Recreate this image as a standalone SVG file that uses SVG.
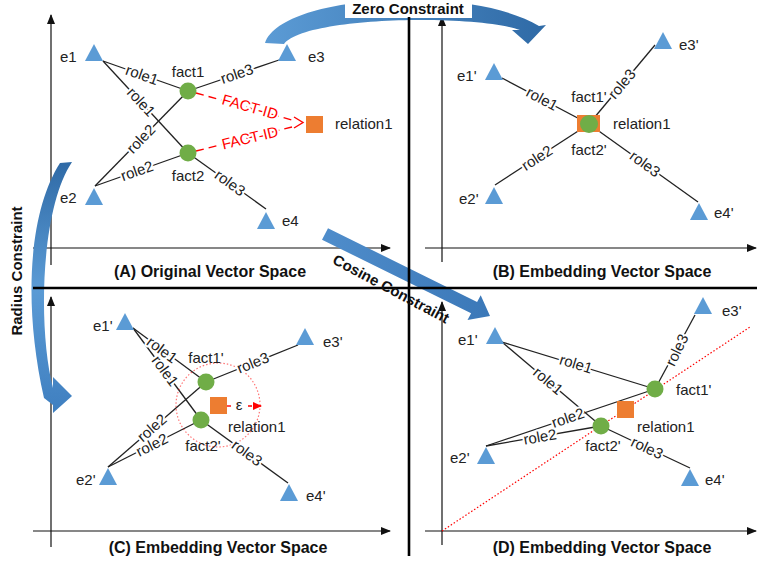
<svg xmlns="http://www.w3.org/2000/svg" width="757" height="564" viewBox="0 0 757 564">
<defs>
<style>
text{font-family:"Liberation Sans",Arial,sans-serif;font-size:15px;fill:#222}
.t{font-weight:bold;font-size:16px;text-anchor:middle;fill:#111}
.c{font-weight:bold;font-size:15px;text-anchor:middle;fill:#111}
.lbl{text-anchor:middle;stroke:#fff;stroke-width:4;stroke-linejoin:round;paint-order:stroke}
.mid{text-anchor:middle}
.edge{stroke:#222;stroke-width:1.3;fill:none}
.axis{stroke:#111;stroke-width:1.2;fill:none;marker-end:url(#ax)}
.div{stroke:#000;stroke-width:2.6}
.tri{fill:#5B9BD5}
.fact{fill:#70AD47}
.rel{fill:#ED7D31}
.fid{stroke:#F00;stroke-width:1.4;fill:none;stroke-dasharray:8 5}
.rtxt{fill:#F00;text-anchor:middle;stroke:#fff;stroke-width:4;stroke-linejoin:round;paint-order:stroke}
.dot{stroke:#F00;stroke-width:1.2;fill:none;stroke-dasharray:1.5 2}
</style>
<marker id="ax" markerWidth="10" markerHeight="8" refX="9" refY="4" orient="auto" markerUnits="userSpaceOnUse"><path d="M0,0 L10,4 L0,8 Z" fill="#111"/></marker>
<marker id="ra" markerWidth="9" markerHeight="8" refX="8" refY="4" orient="auto" markerUnits="userSpaceOnUse"><path d="M0,0 L9,4 L0,8 Z" fill="#F00"/></marker>
<path id="tri" d="M0,-9 L9,8 L-9,8 Z"/>
<linearGradient id="gz" x1="0" y1="0" x2="1" y2="0"><stop offset="0" stop-color="#5B9BD5"/><stop offset="1" stop-color="#2F6AA6"/></linearGradient>
<linearGradient id="gr" x1="0" y1="0" x2="0" y2="1"><stop offset="0" stop-color="#2F6AA6"/><stop offset="0.5" stop-color="#5B9BD5"/><stop offset="1" stop-color="#3F7FC0"/></linearGradient>
<linearGradient id="gc" x1="0" y1="0" x2="1" y2="0"><stop offset="0" stop-color="#4F8DCB"/><stop offset="1" stop-color="#3B78B8"/></linearGradient>
</defs>
<rect width="757" height="564" fill="#fff"/>

<g id="axes">
<line class="axis" x1="51" y1="265" x2="51" y2="15"/>
<line class="axis" x1="33" y1="248" x2="390" y2="248"/>
<line class="axis" x1="442" y1="262" x2="442" y2="17"/>
<line class="axis" x1="425" y1="248" x2="756" y2="248"/>
<line class="axis" x1="51" y1="547" x2="51" y2="297"/>
<line class="axis" x1="33" y1="531" x2="390" y2="531"/>
<line class="axis" x1="442" y1="545" x2="442" y2="302"/>
<line class="axis" x1="425" y1="531" x2="756" y2="531"/>
</g>

<g id="connectors">
<!-- Panel A -->
<line class="edge" x1="103" y1="61" x2="188" y2="91"/>
<line class="edge" x1="103" y1="61" x2="188" y2="153"/>
<line class="edge" x1="279" y1="60" x2="188" y2="91"/>
<line class="edge" x1="95" y1="186" x2="188" y2="91"/>
<line class="edge" x1="95" y1="186" x2="188" y2="153"/>
<line class="edge" x1="188" y1="153" x2="266" y2="209"/>
<line class="fid" x1="196" y1="93" x2="292" y2="120"/>
<line class="fid" x1="196" y1="151" x2="292" y2="127"/>
<path d="M294,117 L303,122.5 L294,128" stroke="#F00" stroke-width="1.4" fill="none"/>
<!-- Panel B -->
<line class="edge" x1="502" y1="78" x2="589" y2="124"/>
<line class="edge" x1="655" y1="45" x2="589" y2="124"/>
<line class="edge" x1="495" y1="185" x2="589" y2="124"/>
<line class="edge" x1="698" y1="202" x2="589" y2="124"/>
<!-- Panel C -->
<line class="edge" x1="133" y1="328" x2="206" y2="382"/>
<line class="edge" x1="133" y1="328" x2="201" y2="420"/>
<line class="edge" x1="298" y1="345" x2="206" y2="382"/>
<line class="edge" x1="108" y1="467" x2="206" y2="382"/>
<line class="edge" x1="108" y1="467" x2="201" y2="420"/>
<line class="edge" x1="201" y1="420" x2="288" y2="483"/>
<circle class="dot" cx="218" cy="405" r="42" stroke-opacity="0.55"/>
<line x1="220" y1="406" x2="231" y2="406" stroke="#F00" stroke-width="1.4"/>
<line x1="248" y1="406" x2="261" y2="406" stroke="#F00" stroke-width="1.4" stroke-dasharray="4 2" marker-end="url(#ra)"/>
<!-- Panel D -->
<line class="dot" x1="442" y1="531" x2="750" y2="327"/>
<line class="edge" x1="502" y1="342" x2="655" y2="389"/>
<line class="edge" x1="502" y1="342" x2="601" y2="426"/>
<line class="edge" x1="655" y1="389" x2="695" y2="315"/>
<line class="edge" x1="486" y1="446" x2="655" y2="389"/>
<line class="edge" x1="486" y1="446" x2="601" y2="426"/>
<line class="edge" x1="601" y1="426" x2="690" y2="468"/>
</g>

<g id="edge-labels">
<text class="lbl" transform="translate(142,75) rotate(19.4)" y="5">role1</text>
<text class="lbl" transform="translate(141,102) rotate(47.3)" y="5">role1</text>
<text class="lbl" transform="translate(237,74) rotate(-18.8)" y="5">role3</text>
<text class="lbl" transform="translate(141,139) rotate(-45.6)" y="5">role2</text>
<text class="lbl" transform="translate(137,171) rotate(-19.5)" y="5">role2</text>
<text class="lbl" transform="translate(230,183) rotate(35.7)" y="5">role3</text>
<text class="rtxt" transform="translate(250,107) rotate(15.8)" y="5">FACT-ID</text>
<text class="rtxt" transform="translate(250,138) rotate(-13.3)" y="5">FACT-ID</text>

<text class="lbl" transform="translate(542,99) rotate(27.9)" y="5">role1</text>
<text class="lbl" transform="translate(622,84) rotate(-50)" y="5">role3</text>
<text class="lbl" transform="translate(537,158) rotate(-33)" y="5">role2</text>
<text class="lbl" transform="translate(645,164) rotate(35.6)" y="5">role3</text>

<text class="lbl" transform="translate(162,350) rotate(36.5)" y="5">role1</text>
<text class="lbl" transform="translate(165,371) rotate(53.5)" y="5">role1</text>
<text class="lbl" transform="translate(253,363) rotate(-21.9)" y="5">role3</text>
<text class="lbl" transform="translate(152,428) rotate(-40.9)" y="5">role2</text>
<text class="lbl" transform="translate(152,445) rotate(-26.8)" y="5">role2</text>
<text class="lbl" transform="translate(247,453) rotate(35.9)" y="5">role3</text>
<text x="239" y="410" class="mid" fill="#333">ε</text>

<text class="lbl" transform="translate(576,364) rotate(17.1)" y="5">role1</text>
<text class="lbl" transform="translate(548,381) rotate(40.3)" y="5">role1</text>
<text class="lbl" transform="translate(677,350) rotate(-64)" y="5">role3</text>
<text class="lbl" transform="translate(568,418) rotate(-18.6)" y="5">role2</text>
<text class="lbl" transform="translate(540,437) rotate(-9.9)" y="5">role2</text>
<text class="lbl" transform="translate(647,448) rotate(25.3)" y="5">role3</text>
</g>

<!-- Panel A nodes -->
<g id="A-e1"><use href="#tri" class="tri" x="94" y="53"/><text x="60" y="62">e1</text></g>
<g id="A-e3"><use href="#tri" class="tri" x="287" y="53"/><text x="308" y="62">e3</text></g>
<g id="A-e2"><use href="#tri" class="tri" x="94" y="197"/><text x="60" y="203">e2</text></g>
<g id="A-e4"><use href="#tri" class="tri" x="266" y="221"/><text x="282" y="226">e4</text></g>
<g id="A-fact1"><circle class="fact" cx="188" cy="91" r="8.5"/><text class="mid" x="188" y="77">fact1</text></g>
<g id="A-fact2"><circle class="fact" cx="188" cy="153" r="8.5"/><text class="mid" x="188" y="181">fact2</text></g>
<g id="A-relation1"><rect class="rel" x="306" y="116" width="17" height="17"/><text x="335" y="129">relation1</text></g>

<!-- Panel B nodes -->
<g id="B-e1"><use href="#tri" class="tri" x="494" y="72"/><text x="457" y="81">e1'</text></g>
<g id="B-e3"><use href="#tri" class="tri" x="663" y="41"/><text x="679" y="50">e3'</text></g>
<g id="B-e2"><use href="#tri" class="tri" x="494" y="196"/><text x="459" y="204">e2'</text></g>
<g id="B-e4"><use href="#tri" class="tri" x="699" y="212"/><text x="714" y="218">e4'</text></g>
<g id="B-center"><rect class="rel" x="577" y="115" width="23" height="17"/><circle class="fact" cx="589" cy="124" r="9"/><text class="mid" x="589" y="102">fact1'</text><text class="mid" x="589" y="155">fact2'</text><text x="613" y="129">relation1</text></g>

<!-- Panel C nodes -->
<g id="C-e1"><use href="#tri" class="tri" x="125" y="322"/><text x="93" y="331">e1'</text></g>
<g id="C-e3"><use href="#tri" class="tri" x="305" y="337"/><text x="323" y="347">e3'</text></g>
<g id="C-e2"><use href="#tri" class="tri" x="108" y="477"/><text x="76" y="485">e2'</text></g>
<g id="C-e4"><use href="#tri" class="tri" x="289" y="493"/><text x="306" y="501">e4'</text></g>
<g id="C-fact1"><circle class="fact" cx="206" cy="382" r="8.5"/><text class="mid" x="206" y="363">fact1'</text></g>
<g id="C-fact2"><circle class="fact" cx="201" cy="420" r="8.5"/><text class="mid" x="203" y="451">fact2'</text></g>
<g id="C-relation1"><rect class="rel" x="210" y="397" width="17" height="17"/><text x="228" y="432">relation1</text></g>

<!-- Panel D nodes -->
<g id="D-e1"><use href="#tri" class="tri" x="495" y="336"/><text x="458" y="345">e1'</text></g>
<g id="D-e3"><use href="#tri" class="tri" x="703" y="306"/><text x="722" y="316">e3'</text></g>
<g id="D-e2"><use href="#tri" class="tri" x="486" y="456"/><text x="450" y="463">e2'</text></g>
<g id="D-e4"><use href="#tri" class="tri" x="690" y="478"/><text x="705" y="485">e4'</text></g>
<g id="D-fact1"><circle class="fact" cx="655" cy="389" r="8.5"/><text x="676" y="395">fact1'</text></g>
<g id="D-fact2"><circle class="fact" cx="601" cy="426" r="8.5"/><text class="mid" x="603" y="451">fact2'</text></g>
<g id="D-relation1"><rect class="rel" x="617" y="401" width="17" height="17"/><text x="637" y="432">relation1</text></g>

<!-- big constraint arrows -->
<g id="zero-constraint">
<path d="M265,43 C282,-6 470,-16 539,26 L546,25 L528,44 L512,30 L520,30 C475,14 305,16 284,44 Z" fill="url(#gz)"/>
<rect x="345" y="0" width="127" height="18" fill="#fff"/>
<text class="c" x="408" y="14">Zero Constraint</text>
</g>
<g id="radius-constraint">
<path d="M60,163 C30,210 22,300 44,398 L53,405 L53,413 L72,396 L53,377 L53,388 C38,330 40,210 72,162 Z" fill="url(#gr)"/>
<text class="c" transform="translate(22,271) rotate(-90)">Radius Constraint</text>
</g>
<g id="cosine-constraint">
<path d="M328,228.3 L477.1,301.9 L480.7,295.2 L490,316 L467.5,320 L471.1,313.3 L322,239.7 Z" fill="url(#gc)"/>
</g>

<g id="dividers">
<line class="div" x1="409" y1="17" x2="409" y2="556"/>
<line class="div" x1="33" y1="288" x2="757" y2="288"/>
</g>
<text class="c" transform="translate(391,289) rotate(28)" y="5">Cosine Constraint</text>

<g id="titles">
<text class="t" x="210" y="277">(A) Original Vector Space</text>
<text class="t" x="602" y="277">(B) Embedding Vector Space</text>
<text class="t" x="218" y="553">(C) Embedding Vector Space</text>
<text class="t" x="602" y="553">(D) Embedding Vector Space</text>
</g>
</svg>
